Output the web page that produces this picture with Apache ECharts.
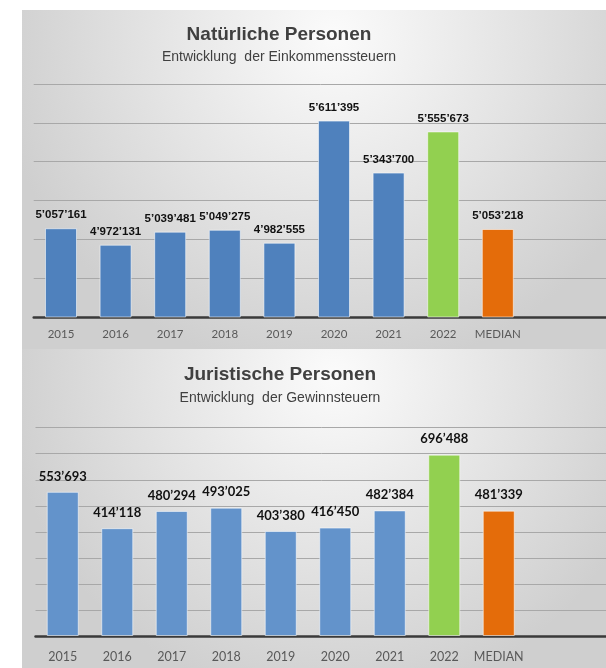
<!DOCTYPE html>
<html>
<head>
<meta charset="utf-8">
<script src="https://cdn.jsdelivr.net/npm/echarts@6/dist/echarts.min.js"></script>
<style>
    html, body { margin: 0; padding: 0; background: #ffffff; }
    #chart { width: 606px; height: 668px; }
</style>
</head>
<body>
<div id="chart"></div>
<script>
// Categories and values
const categories = ['2015', '2016', '2017', '2018', '2019', '2020', '2021', '2022', 'MEDIAN'];
const natuerlicheValues = [5057161, 4972131, 5039481, 5049275, 4982555, 5611395, 5343700, 5555673, 5053218];
const juristischeValues = [553693, 414118, 480294, 493025, 403380, 416450, 482384, 696488, 481339];

// Value axis ranges
const natAxis = { min: 4600000, max: 5800000, interval: 200000 };
const jurAxis = { min: 0, max: 800000, interval: 100000 };

// Titles
const natTitle = 'Natürliche Personen';
const natSubtitle = 'Entwicklung  der Einkommenssteuern';
const jurTitle = 'Juristische Personen';
const jurSubtitle = 'Entwicklung  der Gewinnsteuern';

const chart = echarts.init(document.getElementById('chart'));

// 5057161 -> 5’057’161
const fmt = n => String(n).replace(/\B(?=(\d{3})+(?!\d))/g, '\u2019');

const barColor = (name, blue) => {
    if (name === '2022') return '#92d050';
    if (name === 'MEDIAN') return '#e46c0a';
    return blue;
};

const panelBg = () => new echarts.graphic.RadialGradient(0.52, 0.08, 1.0, [
    { offset: 0, color: '#fbfbfb' },
    { offset: 0.55, color: '#e3e3e3' },
    { offset: 1, color: '#cfcfcf' }
]);

const makeXAxis = (gridIndex, labelFont, labelSize, labelMargin) => ({
    type: 'category',
    gridIndex: gridIndex,
    data: categories,
    max: 10,
    axisTick: { show: false },
    axisLine: { lineStyle: { color: '#3a3a3a', width: 2.5 } },
    axisLabel: {
        color: '#595959',
        fontFamily: labelFont,
        fontSize: labelSize,
        margin: labelMargin,
        interval: 0,
        formatter: v => (categories.indexOf(v) >= 0 ? v : '')
    }
});

const makeYAxis = (gridIndex, range) => ({
    type: 'value',
    gridIndex: gridIndex,
    min: range.min,
    max: range.max,
    interval: range.interval,
    axisLabel: { show: false },
    axisLine: { show: false },
    axisTick: { show: false },
    splitLine: { lineStyle: { color: '#a8a8a8', width: 1 } }
});

const makeSeries = (idx, values, blue, labelFont, labelSize, dist) => ({
    type: 'bar',
    xAxisIndex: idx,
    yAxisIndex: idx,
    barWidth: 32,
    data: values.map((v, i) => ({
        value: v,
        itemStyle: { color: barColor(categories[i], blue) }
    })),
    itemStyle: { borderColor: 'rgba(255,255,255,0.55)', borderWidth: 1 },
    label: {
        show: true,
        position: 'top',
        distance: dist,
        color: '#111111',
        fontFamily: labelFont,
        fontWeight: 'bold',
        fontSize: labelSize,
        formatter: p => fmt(p.value)
    },
    animation: false
});

chart.setOption({
    animation: false,
    graphic: [
        { type: 'rect', z: -10, shape: { x: 22, y: 10, width: 600, height: 339 }, style: { fill: panelBg() } },
        { type: 'rect', z: -10, shape: { x: 22, y: 349, width: 600, height: 330 }, style: { fill: panelBg() } },
        { type: 'text', x: 279, y: 35, style: { text: natTitle, align: 'center', verticalAlign: 'middle', font: 'bold 19px "Liberation Sans", Arial, sans-serif', fill: '#404040' } },
        { type: 'text', x: 279, y: 57, style: { text: natSubtitle, align: 'center', verticalAlign: 'middle', font: '14px "Liberation Sans", Arial, sans-serif', fill: '#404040' } },
        { type: 'text', x: 280, y: 375, style: { text: jurTitle, align: 'center', verticalAlign: 'middle', font: 'bold 19px "Liberation Sans", Arial, sans-serif', fill: '#404040' } },
        { type: 'text', x: 280, y: 398, style: { text: jurSubtitle, align: 'center', verticalAlign: 'middle', font: '14px "Liberation Sans", Arial, sans-serif', fill: '#404040' } }
    ],
    grid: [
        { left: 33.7, top: 84, width: 600.6, height: 233, outerBoundsMode: 'none' },
        { left: 35.5, top: 427.7, width: 599.5, height: 208.3, outerBoundsMode: 'none' }
    ],
    xAxis: [
        makeXAxis(0, 'Lato, sans-serif', 11.5, 11),
        makeXAxis(1, 'Lato, sans-serif', 12.5, 14)
    ],
    yAxis: [
        makeYAxis(0, natAxis),
        makeYAxis(1, jurAxis)
    ],
    series: [
        makeSeries(0, natuerlicheValues, '#4f81bd', '"Liberation Sans", Arial, sans-serif', 11.5, 7),
        makeSeries(1, juristischeValues, '#6393cb', 'Lato, sans-serif', 13, 9)
    ]
});
</script>
</body>
</html>
